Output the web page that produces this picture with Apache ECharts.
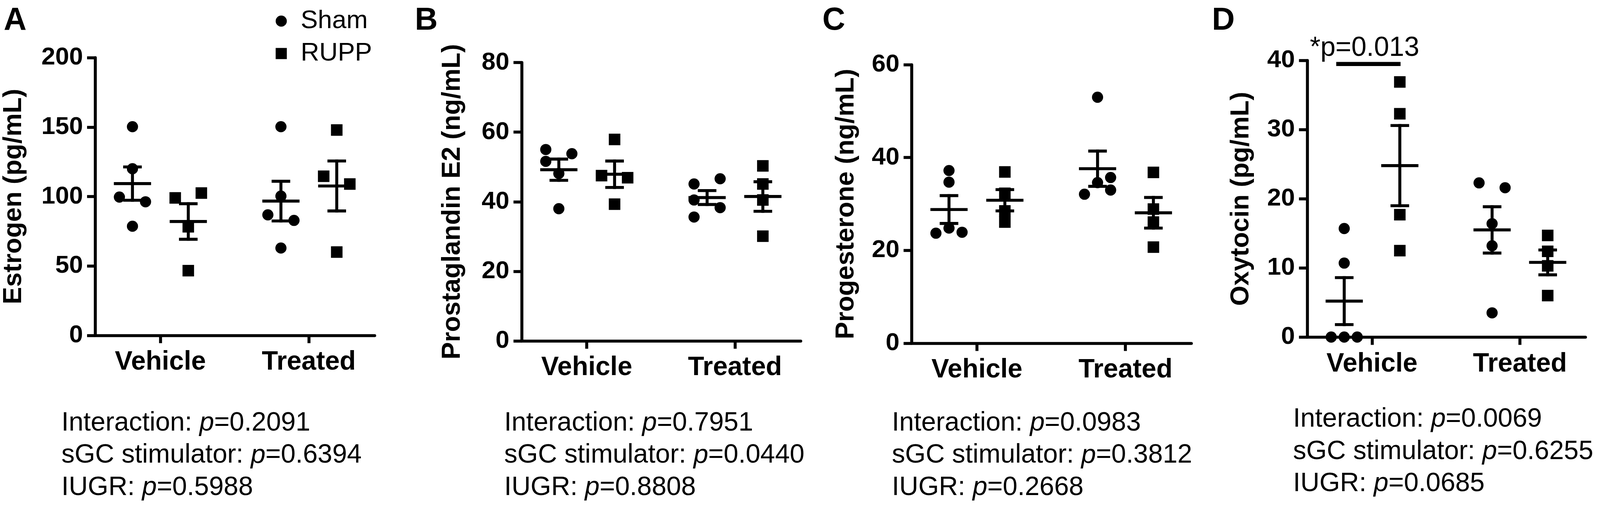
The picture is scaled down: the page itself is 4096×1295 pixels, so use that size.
<!DOCTYPE html>
<html><head><meta charset="utf-8">
<script src="https://cdn.jsdelivr.net/npm/echarts@6/dist/echarts.min.js"></script>
<style>html,body{margin:0;padding:0;background:#fff}#chart{width:4096px;height:1295px}</style>
</head><body><div id="chart"></div>
<script>
// ---------------- DATA ----------------
const categories = ['Vehicle', 'Treated'];
const groupNames = ['Sham', 'RUPP'];
const statNames = ['Interaction', 'sGC stimulator', 'IUGR'];

// A: Estrogen (pg/mL)
const estrogenSham = [[150.3, 120.0, 99.6, 96.2, 78.6], [150.3, 100.3, 86.8, 82.8, 62.9]];
const estrogenShamSide = [[0, 0, -1, 1, 0], [0, 0, -1, 1, 0]];
const estrogenRupp = [[99.0, 102.5, 78.2, 46.6], [147.9, 114.6, 109.0, 60.0]];
const estrogenRuppSide = [[-1, 1, 0, 0], [0, -1, 1, 0]];
const estrogenShamMean = [109.3, 96.7];
const estrogenShamSem = [12.0, 14.3];
const estrogenRuppMean = [82.0, 107.6];
const estrogenRuppSem = [12.8, 18.0];
const estrogenTicks = [0, 50, 100, 150, 200];
const estrogenP = ['0.2091', '0.6394', '0.5988'];

// B: Prostaglandin E2 (ng/mL)
const pge2Sham = [[55.0, 53.8, 51.6, 48.1, 38.0], [45.1, 46.6, 40.5, 38.3, 35.6]];
const pge2ShamSide = [[-1, 1, -1, 0, 0], [-1, 1, -1, 1, -1]];
const pge2Rupp = [[57.9, 47.5, 46.9, 39.3], [50.3, 45.1, 40.5, 30.1]];
const pge2RuppSide = [[0, -1, 1, 0], [0, 0, 0, 0]];
const pge2ShamMean = [49.2, 41.2];
const pge2ShamSem = [3.05, 2.0];
const pge2RuppMean = [47.9, 41.5];
const pge2RuppSem = [3.8, 4.25];
const pge2Ticks = [0, 20, 40, 60, 80];
const pge2P = ['0.7951', '0.0440', '0.8808'];

// C: Progesterone (ng/mL)
const progSham = [[37.2, 34.7, 23.7, 24.8, 23.9], [53.0, 32.1, 34.6, 35.7, 33.0]];
const progShamSide = [[0, 0, -1, 0, 1], [0, -1, 0, 1, 1]];
const progRupp = [[36.9, 32.3, 28.5, 26.1], [36.8, 28.9, 26.1, 20.7]];
const progRuppSide = [[0, 0, 0, 0], [0, 0, 0, 0]];
const progShamMean = [28.8, 37.6];
const progShamSem = [3.0, 3.8];
const progRuppMean = [30.8, 28.1];
const progRuppSem = [2.3, 3.3];
const progTicks = [0, 20, 40, 60];
const progP = ['0.0983', '0.3812', '0.2668'];

// D: Oxytocin (pg/mL)
const oxySham = [[15.7, 10.7, 0, 0, 0], [22.3, 21.6, 16.4, 13.2, 3.5]];
const oxyShamSide = [[0, 0, -1, 0, 1], [-1, 1, 0, 0, 0]];
const oxyRupp = [[36.9, 32.3, 17.7, 12.5], [14.7, 12.4, 10.3, 6.0]];
const oxyRuppSide = [[0, 0, 0, 0], [0, 0, 0, 0]];
const oxyShamMean = [5.2, 15.5];
const oxyShamSem = [3.4, 3.35];
const oxyRuppMean = [24.8, 10.8];
const oxyRuppSem = [5.8, 1.8];
const oxyTicks = [0, 10, 20, 30, 40];
const oxyP = ['0.0069', '0.6255', '0.0685'];
const oxySigFrom = 0.758, oxySigTo = 1.193, oxySigY = 39.5;
const oxySigLabel = '*p=0.013';

// ---------------- LAYOUT / STYLE ----------------
const S = 4096 / 4300;
const FONT = '"Liberation Sans", Arial, Helvetica, sans-serif';
const LW = 8 * S;
const GROUP_OFFSET = 0.188, JITTER = 0.088;
const XMIN = 0.5614, XMAX = 2.4436;

const panels = [
  { letter: 'A', title: 'Estrogen (pg/mL)', sham: estrogenSham, shamSide: estrogenShamSide, rupp: estrogenRupp, ruppSide: estrogenRuppSide,
    shamMean: estrogenShamMean, shamSem: estrogenShamSem, ruppMean: estrogenRuppMean, ruppSem: estrogenRuppSem, ticks: estrogenTicks, p: estrogenP,
    L: { left: 256, top: 155, width: 751, height: 746, nameGap: 183, letterX: 10, textX: 165, textDy: 0 } },
  { letter: 'B', title: 'Prostaglandin E2 (ng/mL)', sham: pge2Sham, shamSide: pge2ShamSide, rupp: pge2Rupp, ruppSide: pge2RuppSide,
    shamMean: pge2ShamMean, shamSem: pge2ShamSem, ruppMean: pge2RuppMean, ruppSem: pge2RuppSem, ticks: pge2Ticks, p: pge2P,
    L: { left: 1402, top: 168, width: 750, height: 748, nameGap: 151, letterX: 1115, textX: 1355, textDy: 0 } },
  { letter: 'C', title: 'Progesterone (ng/mL)', sham: progSham, shamSide: progShamSide, rupp: progRupp, ruppSide: progRuppSide,
    shamMean: progShamMean, shamSem: progShamSem, ruppMean: progRuppMean, ruppSem: progRuppSem, ticks: progTicks, p: progP,
    L: { left: 2450.4, top: 174, width: 751.4, height: 748, nameGap: 140.5, letterX: 2210, textX: 2397, textDy: 0 } },
  { letter: 'D', title: 'Oxytocin (pg/mL)', sham: oxySham, shamSide: oxyShamSide, rupp: oxyRupp, ruppSide: oxyRuppSide,
    shamMean: oxyShamMean, shamSem: oxyShamSem, ruppMean: oxyRuppMean, ruppSem: oxyRuppSem, ticks: oxyTicks, p: oxyP,
    L: { left: 3513, top: 162.6, width: 748, height: 743, nameGap: 142, letterX: 3257, textX: 3475, textDy: -10.3 } }
];

const grid = [], xAxis = [], yAxis = [], series = [], graphic = [];

function renderErr(params, api) {
  const x = api.value(0), m = api.value(1), e = api.value(2);
  const c = api.coord([x, m]), hi = api.coord([x, m + e]), lo = api.coord([x, m - e]);
  const st = { stroke: '#000', lineWidth: LW, lineCap: 'butt' };
  const MH = 50 * S, CH = 25 * S;
  return { type: 'group', children: [
    { type: 'line', shape: { x1: c[0] - MH, y1: c[1], x2: c[0] + MH, y2: c[1] }, style: st },
    { type: 'line', shape: { x1: hi[0], y1: hi[1] - LW / 2, x2: lo[0], y2: lo[1] + LW / 2 }, style: st },
    { type: 'line', shape: { x1: hi[0] - CH, y1: hi[1], x2: hi[0] + CH, y2: hi[1] }, style: st },
    { type: 'line', shape: { x1: lo[0] - CH, y1: lo[1], x2: lo[0] + CH, y2: lo[1] }, style: st }
  ] };
}

panels.forEach((pn, i) => {
  const L = pn.L;
  grid.push({ left: L.left * S, top: L.top * S, width: L.width * S, height: L.height * S, outerBoundsMode: 'none', containLabel: false });
  xAxis.push({
    gridIndex: i, type: 'value', min: XMIN, max: XMAX,
    axisLine: { show: true, onZero: false, lineStyle: { color: '#000', width: LW } },
    axisTick: { show: true, customValues: [1, 2], length: 21 * S, lineStyle: { color: '#000', width: LW } },
    axisLabel: { show: true, customValues: [1, 2], formatter: v => categories[Math.round(v) - 1], margin: 37 * S,
      fontSize: 71 * S, fontWeight: 'bold', fontFamily: FONT, color: '#000' },
    splitLine: { show: false }
  });
  const t = pn.ticks;
  yAxis.push({
    gridIndex: i, type: 'value', min: t[0], max: t[t.length - 1], interval: t[1] - t[0],
    name: pn.title, nameLocation: 'middle', nameGap: L.nameGap * S, nameMoveOverlap: false,
    nameTextStyle: { fontSize: 70 * S, fontWeight: 'bold', fontFamily: FONT, color: '#000' },
    axisLine: { show: true, lineStyle: { color: '#000', width: LW } },
    axisTick: { show: true, length: 22 * S, lineStyle: { color: '#000', width: LW } },
    axisLabel: { show: true, margin: 33 * S, fontSize: 67 * S, fontWeight: 'bold', fontFamily: FONT, color: '#000',
      formatter: v => String(v) },
    splitLine: { show: false }
  });
  const mk = (vals, sides, off) => {
    const out = [];
    vals.forEach((arr, c) => arr.forEach((v, j) => out.push([c + 1 + off + sides[c][j] * JITTER, v])));
    return out;
  };
  series.push({ name: 'Sham', type: 'scatter', xAxisIndex: i, yAxisIndex: i, symbol: 'circle', symbolSize: 30 * S,
    itemStyle: { color: '#000', opacity: 1 }, data: mk(pn.sham, pn.shamSide, -GROUP_OFFSET), clip: false, z: 2 });
  series.push({ name: 'RUPP', type: 'scatter', xAxisIndex: i, yAxisIndex: i, symbol: 'rect', symbolSize: 31 * S,
    itemStyle: { color: '#000', opacity: 1 }, data: mk(pn.rupp, pn.ruppSide, GROUP_OFFSET), clip: false, z: 2 });
  const err = [];
  [0, 1].forEach(c => {
    err.push([c + 1 - GROUP_OFFSET, pn.shamMean[c], pn.shamSem[c]]);
    err.push([c + 1 + GROUP_OFFSET, pn.ruppMean[c], pn.ruppSem[c]]);
  });
  series.push({ type: 'custom', xAxisIndex: i, yAxisIndex: i, renderItem: renderErr, data: err, clip: false, z: 3,
    encode: { x: 0, y: 1 }, silent: true });

  // panel letter
  graphic.push({ type: 'text', x: L.letterX * S, y: 53.8, silent: true,
    style: { text: pn.letter, fontSize: 85 * S, fontWeight: 'bold', fontFamily: FONT, fill: '#000', align: 'left', verticalAlign: 'middle' } });
  // statistics text
  const baselines = [1162, 1248.5, 1335];
  statNames.forEach((nm, k) => {
    const fs = 71 * S;
    graphic.push({ type: 'text', x: L.textX * S, y: (baselines[k] + L.textDy) * S - 0.3465 * fs, silent: true,
      style: { text: nm + ': {i|p}=' + pn.p[k], fontSize: fs, fontFamily: FONT, fill: '#000', align: 'left', verticalAlign: 'middle',
        rich: { i: { fontStyle: 'italic', fontSize: fs, fontFamily: FONT, fill: '#000' } } } });
  });
});

// significance bar on panel D
series.push({ type: 'custom', xAxisIndex: 3, yAxisIndex: 3, clip: false, silent: true, z: 4,
  encode: { x: [0, 1], y: 2 },
  data: [[oxySigFrom, oxySigTo, oxySigY]],
  renderItem: (params, api) => {
    const a = api.coord([api.value(0), api.value(2)]), b = api.coord([api.value(1), api.value(2)]);
    const fs = 73 * S;
    return { type: 'group', children: [
      { type: 'line', shape: { x1: a[0], y1: a[1], x2: b[0], y2: b[1] }, style: { stroke: '#000', lineWidth: 11 * S } },
      { type: 'text', x: a[0] - 71 * S, y: a[1] - 16.2 * S - 0.3465 * fs,
        style: { text: oxySigLabel, fontSize: fs, fontFamily: FONT, fill: '#000', align: 'left', verticalAlign: 'middle' } }
    ] };
  } });

const option = {
  animation: false,
  backgroundColor: '#fff',
  legend: {
    data: [{ name: 'Sham', icon: 'circle' }, { name: 'RUPP', icon: 'rect' }],
    orient: 'vertical', left: 735.6 * S, top: 16, itemWidth: 30 * S, itemHeight: 30 * S, itemGap: 17,
    selectedMode: false, symbolKeepAspect: true,
    itemStyle: { color: '#000' },
    textStyle: { fontSize: 69 * S, fontFamily: FONT, color: '#000', padding: [0, 0, 0, 32 * S] }
  },
  grid, xAxis, yAxis, series, graphic
};
const chart = echarts.init(document.getElementById('chart'), null, { renderer: 'canvas' });
chart.setOption(option);
</script>
</body></html>
